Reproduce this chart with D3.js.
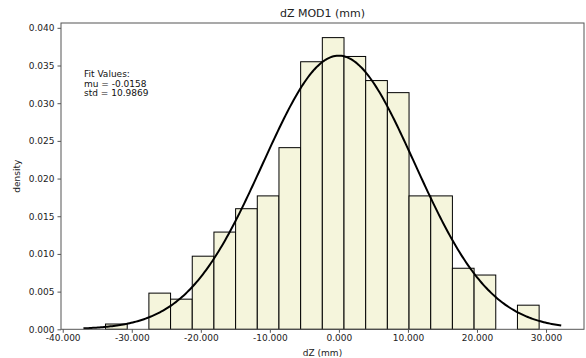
<!DOCTYPE html>
<html>
<head>
<meta charset="utf-8">
<script src="https://cdn.jsdelivr.net/npm/d3@7"></script>
<style>
  html, body { margin: 0; padding: 0; background: #fff; }
  svg { display: block; font-family: "DejaVu Sans", sans-serif; }
</style>
</head>
<body>
<svg id="chart" width="586" height="358"></svg>
<script>
// Histogram of dZ (mm) with a fitted normal curve.
const binStart = -33.8;   // left edge of the first bin
const binWidth = 3.14;    // width of each bin
const densities = [0.0007, 0.0, 0.0048, 0.0040, 0.0097, 0.0129, 0.0160, 0.0177, 0.0241, 0.0355,
                   0.0387, 0.0362, 0.0330, 0.0314, 0.0177, 0.0177, 0.0081, 0.0072, 0.0, 0.0032];
const fitMu = -0.0158;
const fitStd = 10.9869;
const curveRange = [-37.0, 32.2];
const xTicks = [-40, -30, -20, -10, 0, 10, 20, 30];
const yTicks = [0, 0.005, 0.010, 0.015, 0.020, 0.025, 0.030, 0.035, 0.040];
const fitLines = ["Fit Values:", "mu = " + fitMu, "std = " + fitStd];

const plot = { left: 61, top: 23, right: 584, bottom: 329.3 };
const svg = d3.select("#chart");

const x = d3.scaleLinear().domain([-40.25, 35.5]).range([plot.left, plot.right]);
const y = d3.scaleLinear().domain([0, 0.04064]).range([plot.bottom, plot.top]);

// plain hyphen for negative numbers
const fmt3 = v => d3.format(".3f")(v).replace("\u2212", "-");

// bars
const bins = densities.map((d, i) => ({ x0: binStart + i * binWidth, x1: binStart + (i + 1) * binWidth, d }));
svg.append("g").selectAll("rect")
  .data(bins.filter(b => b.d > 0))
  .join("rect")
  .attr("x", b => x(b.x0))
  .attr("y", b => y(b.d))
  .attr("width", b => x(b.x1) - x(b.x0))
  .attr("height", b => y(0) - y(b.d))
  .attr("fill", "#f5f5dc")
  .attr("stroke", "#000")
  .attr("stroke-width", 1);

// fitted normal curve
const pdf = v => Math.exp(-0.5 * ((v - fitMu) / fitStd) ** 2) / (fitStd * Math.sqrt(2 * Math.PI));
const pts = d3.range(0, 301).map(i => curveRange[0] + (curveRange[1] - curveRange[0]) * i / 300);
svg.append("path")
  .datum(pts)
  .attr("fill", "none")
  .attr("stroke", "#000")
  .attr("stroke-width", 2)
  .attr("d", d3.line().x(v => x(v)).y(v => y(pdf(v))));

// frame
svg.append("rect")
  .attr("x", plot.left).attr("y", plot.top)
  .attr("width", plot.right - plot.left).attr("height", plot.bottom - plot.top)
  .attr("fill", "none").attr("stroke", "#555").attr("stroke-width", 1);

// axes
const xAxis = svg.append("g")
  .attr("transform", `translate(0,${plot.bottom})`)
  .call(d3.axisBottom(x).tickValues(xTicks).tickFormat(fmt3).tickSize(3.5).tickPadding(1.5));
const yAxis = svg.append("g")
  .attr("transform", `translate(${plot.left},0)`)
  .call(d3.axisLeft(y).tickValues(yTicks).tickFormat(fmt3).tickSize(3.5).tickPadding(3));
[xAxis, yAxis].forEach(g => {
  g.select(".domain").remove();
  g.selectAll("line").attr("stroke", "#555");
  g.selectAll("text").attr("font-size", 9).attr("fill", "#222").attr("font-family", "DejaVu Sans");
});

// title and axis labels
svg.append("text")
  .attr("x", (plot.left + plot.right) / 2).attr("y", 17)
  .attr("text-anchor", "middle").attr("font-size", 11).attr("fill", "#222")
  .text("dZ MOD1 (mm)");
svg.append("text")
  .attr("x", (plot.left + plot.right) / 2).attr("y", 356)
  .attr("text-anchor", "middle").attr("font-size", 9).attr("fill", "#222")
  .text("dZ (mm)");
svg.append("text")
  .attr("transform", `translate(20,${(plot.top + plot.bottom) / 2}) rotate(-90)`)
  .attr("text-anchor", "middle").attr("font-size", 9).attr("fill", "#222")
  .text("density");

// fit annotation
svg.append("text")
  .attr("x", 84).attr("y", 77)
  .attr("font-size", 9).attr("fill", "#111")
  .selectAll("tspan")
  .data(fitLines)
  .join("tspan")
  .attr("x", 84)
  .attr("dy", (d, i) => i === 0 ? 0 : 9.6)
  .text(d => d);
</script>
</body>
</html>
